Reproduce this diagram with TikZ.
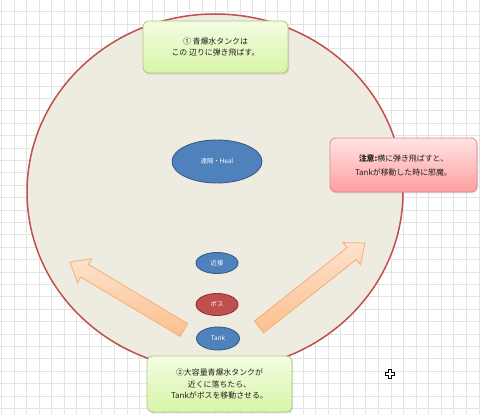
\documentclass[tikz,border=0pt]{standalone}
\usepackage{fontspec}
\newfontfamily\jp{Noto Sans CJK JP}
\usetikzlibrary{shapes.geometric,shadows}
\definecolor{gridc}{HTML}{E4E4E4}
\definecolor{fieldfill}{HTML}{EEECE1}
\definecolor{fieldline}{HTML}{C0504D}
\definecolor{bluefill}{HTML}{4F81BD}
\definecolor{blueline}{HTML}{385D8A}
\definecolor{redfill}{HTML}{C0504D}
\definecolor{redline}{HTML}{8C3836}
\definecolor{gtop}{HTML}{F4FCE2}
\definecolor{gbot}{HTML}{D8F5A8}
\definecolor{gline}{HTML}{AFC97E}
\definecolor{rtop}{HTML}{FFE4E4}
\definecolor{rbot}{HTML}{FF9E9E}
\definecolor{rline}{HTML}{E4888A}
\definecolor{atop}{HTML}{FDE2CC}
\definecolor{abot}{HTML}{FBC08E}
\definecolor{aline}{HTML}{F6AE76}
\definecolor{txt}{HTML}{1E1E1E}
\tikzset{
  gridline/.style={draw=gridc, line width=1pt},
  field/.style={fill=fieldfill, draw=fieldline, line width=1.5pt},
  blueell/.style={ellipse, fill=bluefill, draw=blueline, line width=0.9pt, text=white, font=\jp\fontsize{6.3}{7}\selectfont, inner sep=0pt},
  redell/.style={blueell, fill=redfill, draw=redline},
  notebox/.style={rectangle, rounded corners=6pt, align=center, text=txt, font=\jp\fontsize{7.9}{11.5}\selectfont, line width=0.8pt, drop shadow={opacity=0.25, shadow xshift=1pt, shadow yshift=-1.5pt}},
  greenbox/.style={notebox, top color=gtop, bottom color=gbot, draw=gline},
  redbox/.style={notebox, top color=rtop, bottom color=rbot, draw=rline},
  blockarrow/.style={top color=atop, bottom color=abot, draw=aline, line width=0.8pt, line join=miter}
}
\begin{document}
\begin{tikzpicture}[x=1pt,y=-1pt]
\useasboundingbox (0,0) rectangle (480,414);
\fill[white] (0,0) rectangle (480,414);
% grid
\foreach \i in {0,...,38} { \draw[gridline] ({1.43+12.57*\i},0) -- ({1.43+12.57*\i},414); }
\foreach \j in {0,...,34} { \draw[gridline] (0,{-0.7+12.4*\j}) -- (480,{-0.7+12.4*\j}); }
% field
\draw[field] (215,192) ellipse [x radius=188pt, y radius=178pt];
% units
\node[blueell, minimum width=90pt, minimum height=43pt] (heal) at (217,161.5) {遠隔・Heal};
\node[blueell, minimum width=42pt, minimum height=21pt] (melee) at (217,263) {近接};
\node[redell, minimum width=42pt, minimum height=22pt] (boss) at (217,304.5) {ボス};
\node[blueell, minimum width=43pt, minimum height=23pt] (tank) at (218,338.5) {Tank};
% block arrows
\draw[blockarrow] (187.8,323.6) -- (88.4,264.3) -- (91.8,258.7) -- (70,262) -- (77.4,282.7) -- (80.8,277.1) -- (180.2,336.4) -- cycle;
\draw[blockarrow] (263.7,332.9) -- (356.4,259.5) -- (360.4,264.6) -- (365,243) -- (343.0,242.6) -- (347.0,247.7) -- (254.3,321.1) -- cycle;
% notes
\node[greenbox, minimum width=145pt, minimum height=52pt] (note1) at (215.5,47) {① 青爆水タンクは\\この 辺りに弾き飛ばす。};
\node[redbox, minimum width=147pt, minimum height=54pt] (note2) at (403.5,165) {{\bfseries 注意:}横に弾き飛ばすと、\\[2.5pt]Tankが移動した時に邪魔。};
\node[greenbox, minimum width=145pt, minimum height=56pt] (note3) at (219.5,384) {②大容量青爆水タンクが\\近くに落ちたら、\\Tankがボスを移動させる。};
% cursor
\draw[fill=white, draw=black, line width=0.8pt] (388.5,369) -- (391.5,369) -- (391.5,372) -- (394.5,372) -- (394.5,375) -- (391.5,375) -- (391.5,378) -- (388.5,378) -- (388.5,375) -- (385.5,375) -- (385.5,372) -- (388.5,372) -- cycle;
\end{tikzpicture}
\end{document}
